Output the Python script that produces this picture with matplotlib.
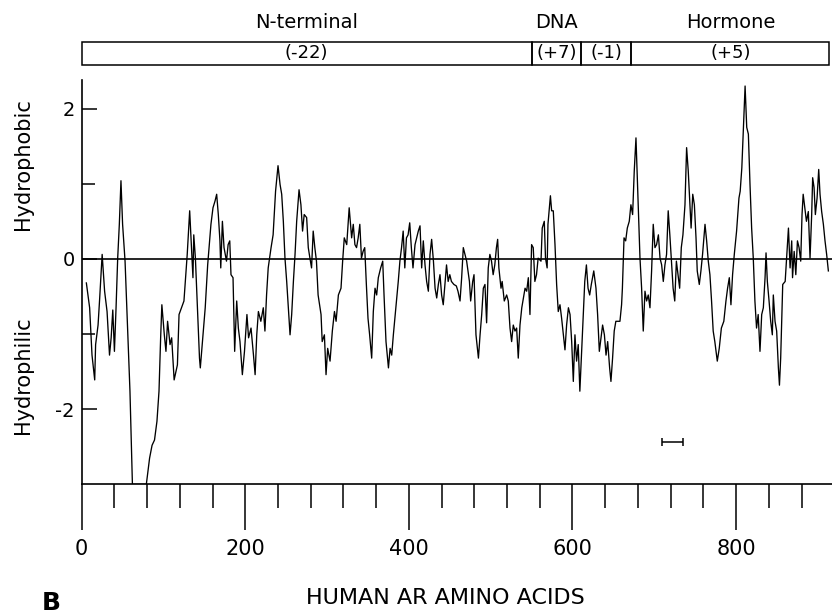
import matplotlib
matplotlib.use('Agg')
import matplotlib.pyplot as plt
from matplotlib.patches import Rectangle

plt.rcParams['font.family'] = ['DejaVu Sans']
plt.rcParams['axes.unicode_minus'] = False

# ---- data read from the hydropathy profile ----
residue = [
    5.7, 9.7, 12.6, 15.9, 17, 20, 22, 25, 28, 31, 34, 36, 38, 40, 42, 44, 46, 48, 50, 53, 56, 59, 62, 79,
    83, 86, 89, 92, 94.5, 96.5, 98, 101, 103, 105, 108, 110, 113, 117, 119, 122, 125, 127, 129, 132, 134,
    136, 137, 139, 141, 144, 145, 148, 151, 154, 158, 160.5,
    163, 165, 167, 169, 170, 172, 174, 177, 179, 181, 182.5, 185, 187, 189.5, 191.5, 193.5, 196.4, 199,
    202, 204, 207, 210, 212, 214, 216, 219, 222, 224, 226, 228, 231.5, 234, 237, 240, 242.5, 244.5, 246.5,
    248.5, 250.6, 252.6, 254.7, 256.7, 258.8, 260.8, 262.8, 265.7, 268, 270, 272, 275, 277, 279, 281, 283,
    285, 287, 289, 292.6, 294, 296.7, 298.7, 300.7, 303.6, 306.4, 309, 311, 313.8, 317, 319, 321, 324, 327,
    330, 332, 334, 336, 338, 340, 342, 344, 346, 348, 350, 352, 354.5, 356.5, 358.6, 360.6, 362.6, 365.5,
    368, 369.6, 372, 375, 377, 379, 381, 384, 387, 389, 391, 393, 395, 397, 399, 401, 403, 405, 407.5,
    409.5, 411.5, 413.6, 415.6, 417.6, 419.7, 421.7, 423.8, 425.8, 427.8, 430, 432, 434, 436, 438, 440,
    442, 444, 446, 448, 450, 452, 455, 458, 460, 462.5, 464.5, 466.5, 468.6, 470.6, 474, 475.5, 478, 479.6,
    482, 485, 487, 489, 491,
    493, 495, 497, 499, 501, 503, 505, 507, 508.5, 510, 512.6, 514, 516.6, 519.5, 521.5, 523.6, 525.6,
    527.6, 529.7, 531.7, 533.7, 535.8, 538, 540, 542, 544, 546, 548, 550, 552, 554, 556, 558, 561.5, 563,
    565.5, 567, 569, 570, 573, 574.5, 576.5, 578.6, 580.6, 582.6, 584.7, 586.7, 588.8, 590.8, 592.8, 595,
    597, 599, 601, 603, 605, 607, 609, 611, 613, 615, 617, 619, 621, 623, 626, 628.7, 630.7, 632.8, 634.8,
    636.8, 639, 641, 643, 645.4, 647, 649, 651, 653, 656,
    658, 660, 661, 663, 665, 667, 669.4, 671.4, 673.5, 675.5, 677.6, 679, 681, 682.5, 684.5, 686.5, 688.6,
    690.6, 692.6, 694.7, 696.7, 698.7, 700.8, 702.8, 705, 707, 709, 711, 713, 715, 717, 719, 721, 723, 725,
    727, 729, 731, 733, 735, 737.5, 739.5, 741.5, 743.6, 745, 747, 749, 751, 752.5, 755, 757, 759, 762,
    764, 766, 768, 770, 772, 774, 777, 779.4, 782, 785, 787.6, 789.6, 791.7, 793.7, 795.7, 797.8, 800.6,
    803.5,
    805, 807, 809, 811, 813, 815, 817, 819, 821, 823, 825, 827, 829.2, 831.3, 833.3, 835.4, 836.6, 838.2,
    840.3, 842.3, 844.3, 845.5, 847.6, 849.6, 851.7, 853, 854.5, 857, 860, 862, 864, 866, 868, 869, 871,
    873, 875, 877, 879, 880.6, 882, 884, 886, 888.3, 890.4, 892.4, 893.6, 895.3, 896.9, 899, 901, 902.6,
    904.6, 906.7, 908.7, 910.7, 912.8,
]
hydropathy = [
    -0.32, -0.65, -1.28, -1.61, -1.14, -0.88, -0.52, 0.06, -0.43, -0.70, -1.28, -1.05, -0.68, -1.23, -0.65,
    0.01, 0.46, 1.04, 0.46, -0.03, -0.88, -1.76, -3.0, -3.0,
    -2.65, -2.48, -2.41, -2.16, -1.76, -1.05, -0.61, -1.01, -1.23, -0.83, -1.14, -1.05, -1.61, -1.41, -0.74,
    -0.65, -0.56, -0.25, 0.06, 0.64, 0.19, -0.25, 0.32, 0.01, -0.52, -1.32, -1.45, -1.05, -0.65, -0.08,
    0.46, 0.68,
    0.77, 0.86, 0.59, 0.24, -0.12, 0.50, 0.15, -0.03, 0.19, 0.24, -0.21, -0.25, -1.23, -0.56, -0.92, -1.10,
    -1.54, -1.23, -0.74, -1.05, -0.92, -1.28, -1.54, -1.01, -0.70, -0.83, -0.65, -0.96, -0.48, -0.12, 0.15,
    0.32, 0.90, 1.24, 0.99, 0.86, 0.50, 0.01, -0.30, -0.65, -1.01, -0.74, -0.30, 0.06, 0.50, 0.92, 0.72,
    0.37, 0.59, 0.55, 0.15, 0.01, -0.12, 0.37, 0.15, -0.03, -0.48, -0.74, -1.10, -1.01, -1.54, -1.19, -1.36,
    -0.96, -0.70, -0.83, -0.48, -0.39, -0.03, 0.28, 0.19, 0.68,
    0.28, 0.46, 0.19, 0.15, 0.28, 0.46, 0.01, 0.10, 0.15, -0.34, -0.79, -1.01, -1.32, -0.70, -0.39, -0.48,
    -0.25, -0.12, -0.03, -0.48, -1.10, -1.45, -1.19, -1.28, -1.01, -0.65, -0.30, -0.03, 0.15, 0.37, -0.12,
    0.28, 0.32, 0.48, 0.15, -0.12, 0.19, 0.28, 0.37, 0.44, -0.12, 0.24, -0.08, -0.30, -0.43, 0.06, 0.26,
    -0.03, -0.39, -0.52, -0.34, -0.21, -0.48, -0.61, -0.34, -0.08, -0.30, -0.21, -0.30, -0.34, -0.36, -0.43,
    -0.56, -0.25, 0.15, 0.06, -0.03, -0.30, -0.56, -0.30, -0.21, -1.01, -1.32, -1.01, -0.74, -0.39,
    -0.34, -0.85, -0.12, 0.06, -0.03, -0.21, -0.08, 0.15, 0.26, -0.12, -0.39, -0.30, -0.56, -0.48, -0.56,
    -0.92, -1.10, -0.88, -0.96, -0.92, -1.32, -0.88, -0.65, -0.52, -0.39, -0.43, -0.25, -0.74, 0.19, 0.15,
    -0.30, -0.21, 0.01, -0.03, 0.41, 0.50, 0.01, -0.12, 0.46, 0.84, 0.64, 0.64, 0.19, -0.34, -0.70, -0.61,
    -0.79, -1.01, -1.21, -0.88, -0.65, -0.74, -1.10, -1.63, -1.01, -1.36, -1.14, -1.76, -1.28, -0.79, -0.30,
    -0.08, -0.39, -0.48, -0.34, -0.16, -0.39, -0.74, -1.23, -1.05, -0.88, -1.01, -1.28, -1.10, -1.45, -1.63,
    -1.32, -0.96, -0.83, -0.83,
    -0.83, -0.61, -0.39, 0.28, 0.24, 0.41, 0.50, 0.72, 0.59, 1.17, 1.61, 1.17, 0.50, 0.01, -0.39, -0.96,
    -0.43, -0.56, -0.48, -0.65, -0.16, 0.46, 0.15, 0.19, 0.32, 0.01, -0.08, -0.30, -0.08, 0.06, 0.64, 0.32,
    -0.03, -0.39, -0.56, -0.03, -0.21, -0.39, 0.15, 0.32, 0.72, 1.48, 1.17, 0.72, 0.41, 0.86, 0.72, 0.28,
    -0.16, -0.34, -0.16, 0.06, 0.46, 0.24, -0.03, -0.21, -0.56, -0.96, -1.10, -1.36, -1.19, -0.92, -0.83,
    -0.56, -0.39, -0.25, -0.61, -0.21, 0.06, 0.37, 0.81,
    0.90, 1.21, 1.75, 2.30, 1.75, 1.66, 0.99, 0.41, 0.01, -0.56, -0.92, -0.74, -1.23, -0.74, -0.65, -0.25,
    0.08, -0.30, -0.56, -0.83, -1.01, -0.48, -0.83, -0.96, -1.45, -1.68, -1.32, -0.34, -0.30, 0.06, 0.41,
    -0.12, 0.24, -0.25, 0.10, -0.21, 0.24, 0.15, -0.03, 0.59, 0.86, 0.68, 0.50, 0.63, 0.01, 0.59, 1.08,
    0.95, 0.59, 0.81, 1.19, 0.86, 0.63, 0.46, 0.24, 0.06, -0.16,
]

domain_edges = [0, 550, 611, 672, 914]
domain_charges = ['(-22)', '(+7)', '(-1)', '(+5)']
domain_names = ['N-terminal', 'DNA', '', 'Hormone']

x_major = [0, 200, 400, 600, 800]
x_minor = [40, 80, 120, 160, 240, 280, 320, 360, 440, 480, 520, 560,
           640, 680, 720, 760, 840, 880]
y_major = [-2, 0, 2]
y_minor = [-1, 1]

window_center = 722.5
window_half = 12.5
window_y = -2.44

W, H = 832, 615
fig = plt.figure(figsize=(W / 100, H / 100), dpi=100)

# main profile axes
ax = fig.add_axes([81.7 / W, 1 - 484.4 / H, 750.1 / W, 404.4 / H])
ax.plot(residue, hydropathy, color='black', lw=0.95)
ax.axhline(0, color='black', lw=1.2)
ax.set_xlim(0, 917)
ax.set_ylim(-3, 2.38)
for s in ['top', 'right']:
    ax.spines[s].set_visible(False)
for s in ['left', 'bottom']:
    ax.spines[s].set_linewidth(1.2)

ax.set_xticks(x_major)
ax.set_xticks(x_minor, minor=True)
ax.set_xticklabels([str(v) for v in x_major])
ax.tick_params(axis='x', which='major', direction='out', length=33, width=1.1,
               labelsize=15, pad=6)
ax.tick_params(axis='x', which='minor', direction='out', length=17, width=1.1)

ax.set_yticks(y_major)
ax.set_yticks(y_minor, minor=True)
ax.set_yticklabels([str(v) for v in y_major])
ax.tick_params(axis='y', which='major', direction='in', length=11, width=1.1,
               labelsize=14, pad=5)
ax.tick_params(axis='y', which='minor', direction='in', length=9, width=1.1)

# window-size bar
ax.errorbar([window_center], [window_y], xerr=[window_half], fmt='none',
            ecolor='black', elinewidth=1.1, capsize=3, capthick=1.1)

# domain box
axd = fig.add_axes([81.7 / W, 1 - 65 / H, 750.1 / W, 23 / H])
axd.set_xlim(0, 917)
axd.set_ylim(0, 1)
axd.axis('off')
for i in range(len(domain_charges)):
    x0, x1 = domain_edges[i], domain_edges[i + 1]
    axd.add_patch(Rectangle((x0, 0), x1 - x0, 1, fill=False, lw=1.1,
                            edgecolor='black', clip_on=False))
    mid = (x0 + x1) / 2
    axd.text(mid, 0.5, domain_charges[i], ha='center', va='center', fontsize=13)
    if domain_names[i]:
        axd.text(mid, 1.85, domain_names[i], ha='center', va='center', fontsize=14)

fig.text(23 / W, 1 - 164 / H, 'Hydrophobic', rotation=90, ha='center', va='center', fontsize=15)
fig.text(23 / W, 1 - 375 / H, 'Hydrophilic', rotation=90, ha='center', va='center', fontsize=15)
fig.text(445 / W, 1 - 598.5 / H, 'HUMAN AR AMINO ACIDS', ha='center', va='center', fontsize=16)
fig.text(51 / W, 1 - 603 / H, 'B', ha='center', va='center', fontsize=18, fontweight='bold')

fig.savefig('out.png', dpi=100)
